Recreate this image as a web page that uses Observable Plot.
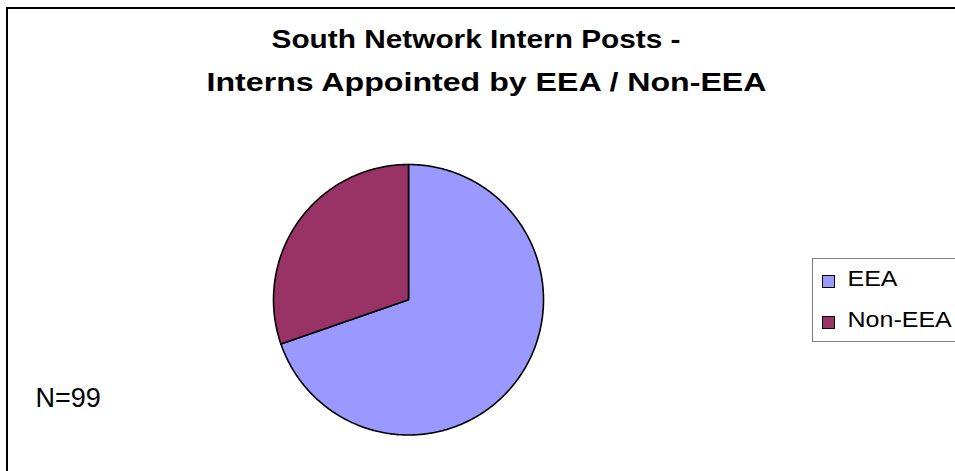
<!DOCTYPE html>
<html>
<head>
<meta charset="utf-8">
<script src="https://cdn.jsdelivr.net/npm/d3@7"></script>
<script src="https://cdn.jsdelivr.net/npm/@observablehq/plot@0.6"></script>
<style>
  html, body { margin: 0; padding: 0; background: #fff; overflow: hidden; }
  #wrap { position: relative; width: 955px; height: 471px; overflow: hidden; font-family: "Liberation Sans", Arial, sans-serif; }
  #frame { position: absolute; left: 6px; top: 7px; width: 1100px; height: 1000px; border: 2px solid #000; box-sizing: border-box; pointer-events: none; }
  #legend { position: absolute; left: 812px; top: 258px; width: 300px; height: 84px; border: 1px solid #808080; box-sizing: border-box; background: #fff; }
  .sw { position: absolute; left: 822px; width: 13px; height: 13px; border: 1px solid #000; box-sizing: border-box; }
  #chart { position: absolute; left: 0; top: 0; }
</style>
</head>
<body>
<div id="wrap">
  <div id="frame"></div>
  <div id="legend"></div>
  <div id="chart"></div>
</div>
<script>
const categories = ["EEA", "Non-EEA"];
const counts = [69, 30];
const colors = ["#9999FF", "#993366"];
const titleLines = ["South Network Intern Posts -", "Interns Appointed by EEA / Non-EEA"];
const note = "N=99";

const data = categories.map((c, i) => ({category: c, count: counts[i]}));
const arcs = d3.pie().sort(null).value(d => d.count).startAngle(0).endAngle(2 * Math.PI)(data);

// polygon points in unit-circle coordinates (angle clockwise from 12 o'clock)
const pts = [];
for (const a of arcs) {
  const key = a.data.category;
  pts.push({key, x: 0, y: 0});
  const n = Math.max(2, Math.ceil((a.endAngle - a.startAngle) / (Math.PI / 360)));
  for (let k = 0; k <= n; k++) {
    const t = a.startAngle + (a.endAngle - a.startAngle) * k / n;
    pts.push({key, x: Math.sin(t), y: Math.cos(t)});
  }
  pts.push({key, x: 0, y: 0});
}

const legendRows = categories.map((c, i) => ({category: c, i}));

const chart = Plot.plot({
  width: 955,
  height: 471,
  margin: 0,
  style: {background: "transparent", fontFamily: "'Liberation Sans', Arial, sans-serif", overflow: "visible"},
  x: {domain: [-1, 1], range: [273, 543], axis: null},
  y: {domain: [-1, 1], range: [434.5, 164], axis: null},
  color: {domain: categories, range: colors},
  marks: [
    Plot.line(pts, {x: "x", y: "y", z: "key", fill: "key", stroke: "#000", strokeWidth: 1.6, strokeLinejoin: "round", curve: "linear-closed"}),
    Plot.text([titleLines[0]], {text: d => d, frameAnchor: "top", dx: -2, dy: 29, fontSize: 26, fontWeight: "bold", lineAnchor: "top", fill: "#000", className: "title1"}),
    Plot.text([titleLines[1]], {text: d => d, frameAnchor: "top", dx: 8.5, dy: 72, fontSize: 26, fontWeight: "bold", lineAnchor: "top", fill: "#000", className: "title2"}),
    Plot.text([note], {text: d => d, frameAnchor: "top-left", dx: 35, dy: 387, fontSize: 27, lineAnchor: "top", textAnchor: "start", fill: "#000"}),
    Plot.text([legendRows[0]], {text: "category", frameAnchor: "top-left", dx: 847, dy: 270, fontSize: 22, lineAnchor: "top", textAnchor: "start", fill: "#000", className: "leg"}),
    Plot.text([legendRows[1]], {text: "category", frameAnchor: "top-left", dx: 847, dy: 311, fontSize: 22, lineAnchor: "top", textAnchor: "start", fill: "#000", className: "leg"})
  ]
});
document.getElementById("chart").appendChild(chart);

// horizontal stretch of the rendered text to match the reference's wide letterforms
const fit = (sel, len) => d3.select(chart).selectAll(sel + " text")
  .attr("textLength", len).attr("lengthAdjust", "spacingAndGlyphs");
fit(".title1", 409);
fit(".title2", 560);
d3.select(chart).selectAll(".leg text").each(function () {
  const w = this.getComputedTextLength();
  d3.select(this).attr("textLength", w * 1.137).attr("lengthAdjust", "spacingAndGlyphs");
});

const wrap = document.getElementById("wrap");
const swTops = [275, 316];
categories.forEach((c, i) => {
  const s = document.createElement("div");
  s.className = "sw";
  s.style.top = swTops[i] + "px";
  s.style.background = colors[i];
  wrap.insertBefore(s, document.getElementById("chart"));
});
</script>
</body>
</html>
